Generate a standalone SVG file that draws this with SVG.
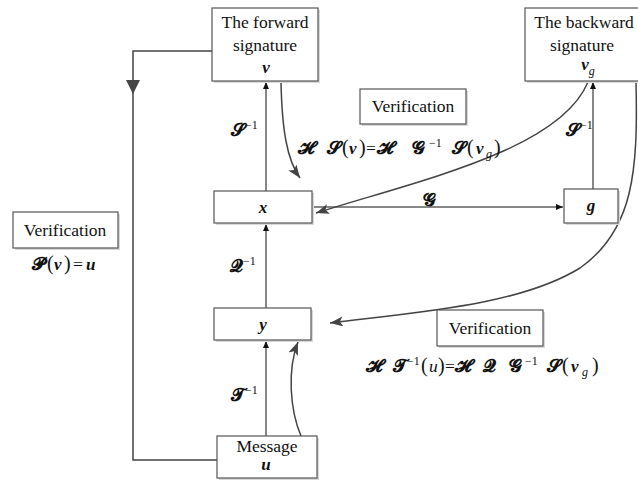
<svg xmlns="http://www.w3.org/2000/svg" width="638" height="484" viewBox="0 0 638 484">
<style>
.box{fill:#fff;stroke:#555;stroke-width:1.2}
.sh{fill:none;stroke:#d8d8d8;stroke-width:2}
.t{font-size:17.5px;fill:#111}
.p{font-size:20px;fill:#111}
.m{font-size:17px;font-weight:bold;font-style:italic;fill:#111}
.sc{font-family:'DejaVu Sans',sans-serif;font-size:18px;font-weight:bold;fill:#111}
.sup{font-size:12px;fill:#111}
.ln{fill:none;stroke:#111;stroke-width:1}
.cv{fill:none;stroke:#444;stroke-width:1.5}
</style>
<defs>
<marker id="a" markerUnits="userSpaceOnUse" markerWidth="8" markerHeight="8" refX="7" refY="3" orient="auto"><path d="M0,0 L7,3 L0,6 Z" fill="#111"/></marker>
<marker id="b" markerUnits="userSpaceOnUse" markerWidth="14" markerHeight="12" refX="13" refY="5" orient="auto"><path d="M0,0 L13,5 L0,10 L3,5 Z" fill="#444"/></marker>
</defs>

<g id="connectors">
<path class="ln" d="M266,191 V82" marker-end="url(#a)"/>
<path class="ln" d="M266,308 V224" marker-end="url(#a)"/>
<path class="ln" d="M266,436 V341" marker-end="url(#a)"/>
<path class="ln" d="M593,189 V82" marker-end="url(#a)"/>
<path class="ln" d="M312,207 H563" stroke="#444" marker-end="url(#a)"/>
<path class="cv" d="M212,51 H133 V460 H217"/>
<path d="M126,80 L140,80 L133,94 Z" fill="#444"/>
<path class="cv" d="M281,82 C282,130 287,160 300,178" marker-end="url(#b)"/>
<path class="cv" d="M588,82 C560,150 420,180 316,213" marker-end="url(#b)"/>
<path class="cv" d="M636,82 C638,170 634,230 580,268 C520,305 420,312 330,323" marker-end="url(#b)"/>
<path class="cv" d="M301,436 C290,410 287,370 298,342" marker-end="url(#b)"/>
</g>

<g font-family="Liberation Serif, serif">
<g id="forward">
<path class="sh" d="M214,82 H319 V10"/>
<rect class="box" x="212" y="8" width="106" height="73"/>
<text class="t" x="265" y="28" text-anchor="middle">The forward</text>
<text class="t" x="265" y="51" text-anchor="middle">signature</text>
<text class="m" x="266" y="73" text-anchor="middle">v</text>
</g>

<g id="backward">
<path class="sh" d="M527,82 H642"/>
<rect class="box" x="525" y="8" width="116" height="73"/>
<text class="t" x="584" y="28" text-anchor="middle">The backward</text>
<text class="t" x="582" y="51" text-anchor="middle">signature</text>
<text class="m" x="588" y="70" text-anchor="middle">v<tspan class="sup" font-style="italic" font-weight="normal" dy="5">g</tspan></text>
</g>

<g id="x">
<path class="sh" d="M216,224 H313 V193"/>
<rect class="box" x="214" y="191" width="98" height="32"/>
<text class="m" x="263" y="213" text-anchor="middle">x</text>
</g>

<g id="y">
<path class="sh" d="M216,341 H312 V310"/>
<rect class="box" x="214" y="308" width="97" height="32"/>
<text class="m" x="263" y="330" text-anchor="middle">y</text>
</g>

<g id="g">
<path class="sh" d="M566,224 H619 V191"/>
<rect class="box" x="564" y="189" width="54" height="34"/>
<text class="m" x="591" y="211" text-anchor="middle">g</text>
</g>

<g id="message">
<path class="sh" d="M219,479 H318 V438"/>
<rect class="box" x="217" y="436" width="100" height="42"/>
<text class="t" x="267" y="452" text-anchor="middle">Message</text>
<text class="m" x="266" y="470" text-anchor="middle">u</text>
</g>

<g id="verif-left">
<path class="sh" d="M15,249 H119 V214"/>
<rect class="box" x="13" y="212" width="105" height="36"/>
<text class="t" x="65" y="236" text-anchor="middle">Verification</text>
<text x="32" y="270"><tspan class="sc">𝓟</tspan><tspan class="p" x="47">(</tspan><tspan class="m" x="54">v</tspan><tspan class="p" x="64">)</tspan><tspan class="t" x="73">=</tspan><tspan class="m" x="86">u</tspan></text>
</g>

<g id="verif-mid">
<path class="sh" d="M362,125 H467 V91"/>
<rect class="box" x="360" y="89" width="106" height="35"/>
<text class="t" x="413" y="112" text-anchor="middle">Verification</text>
<text y="154"><tspan class="sc" x="298">𝓗</tspan><tspan class="sc" x="327">𝓢</tspan><tspan class="p" x="342">(</tspan><tspan class="m" x="349">v</tspan><tspan class="p" x="359">)</tspan><tspan class="t" x="366">=</tspan><tspan class="sc" x="377">𝓗</tspan><tspan class="sc" x="412">𝓖</tspan><tspan class="sup" x="429" dy="-7">−1</tspan><tspan class="sc" x="452" dy="7">𝓢</tspan><tspan class="p" x="467">(</tspan><tspan class="m" x="476">v</tspan><tspan class="sup" font-style="italic" x="486" dy="4">g</tspan><tspan class="p" x="494" dy="-4">)</tspan></text>
</g>

<g id="verif-bottom">
<path class="sh" d="M439,347 H544 V312"/>
<rect class="box" x="437" y="310" width="106" height="36"/>
<text class="t" x="490" y="334" text-anchor="middle">Verification</text>
<text y="372"><tspan class="sc" x="366">𝓗</tspan><tspan class="sc" x="393">𝓣</tspan><tspan class="sup" x="407" dy="-7">−1</tspan><tspan class="p" x="421" dy="7">(</tspan><tspan class="t" font-style="italic" x="429">u</tspan><tspan class="p" x="438">)</tspan><tspan class="t" x="445">=</tspan><tspan class="sc" x="455">𝓗</tspan><tspan class="sc" x="483">𝓠</tspan><tspan class="sc" x="509">𝓖</tspan><tspan class="sup" x="525" dy="-7">−1</tspan><tspan class="sc" x="547" dy="7">𝓢</tspan><tspan class="p" x="562">(</tspan><tspan class="m" x="571">v</tspan><tspan class="sup" font-style="italic" x="582" dy="4">g</tspan><tspan class="p" x="592" dy="-4">)</tspan></text>
</g>

<g id="labels">
<text x="231" y="136"><tspan class="sc">𝓢</tspan><tspan class="sup" dy="-7">−1</tspan></text>
<text x="566" y="136"><tspan class="sc">𝓢</tspan><tspan class="sup" dy="-7">−1</tspan></text>
<text x="230" y="272"><tspan class="sc">𝓠</tspan><tspan class="sup" dy="-7">−1</tspan></text>
<text x="231" y="401"><tspan class="sc">𝓣</tspan><tspan class="sup" dy="-7">−1</tspan></text>
<text class="sc" x="423" y="206">𝓖</text>
</g>
</g>
</svg>
